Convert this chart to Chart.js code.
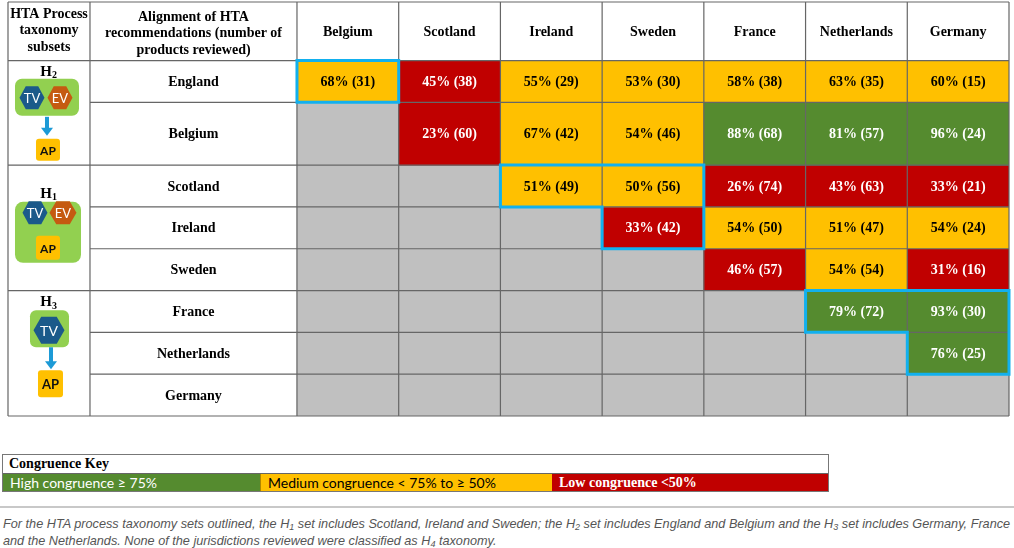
<!DOCTYPE html>
<html>
<head>
<meta charset="utf-8">
<script src="https://cdn.jsdelivr.net/npm/chart.js@4.4.0/dist/chart.umd.min.js"></script>
<style>
  body { margin: 0; background: #fff; width: 1014px; height: 548px; overflow: hidden; position: relative; }
  #wrap { position: absolute; left: 0; top: 0; width: 1014px; height: 430px; }
  #key { position: absolute; left: 2px; top: 454px; width: 827px; height: 38px; border: 1.5px solid #777; box-sizing: border-box; }
  #key .kt { height: 18px; border-bottom: 1px solid #666; font: bold 14px "Liberation Serif", serif; line-height: 18px; padding-left: 6px; color: #000; }
  #key .kr { display: flex; height: 17px; }
  #key .kr span { display: block; height: 17px; line-height: 17px; box-sizing: border-box; padding-left: 7px; }
  #key .hi { width: 257px; background: #558b2f; color: #fff; font: 14px Lato, sans-serif; }
  #key .md { width: 292px; background: #ffc000; color: #000; font: 14px Lato, sans-serif; border-left: 1px solid #b08500; }
  #key .lo { flex: 1; background: #c00000; color: #fff; font: bold 14px "Liberation Serif", serif; }
  #rule { position: absolute; left: 0; top: 506px; width: 1014px; height: 2px; background: #c8c8c8; }
  #cap { position: absolute; left: 3px; top: 516px; width: 1011px; margin: 0; font: italic 12.7px "Liberation Sans", Arial, sans-serif; line-height: 17px; color: #555; }
  #cap sub { font-size: 9px; vertical-align: -2px; line-height: 0; }
</style>
</head>
<body>
<div id="wrap"><canvas id="alignmentChart"></canvas></div>

<div id="key">
  <div class="kt">Congruence Key</div>
  <div class="kr">
    <span class="hi">High congruence ≥ 75%</span>
    <span class="md">Medium congruence &lt; 75% to ≥ 50%</span>
    <span class="lo">Low congruence &lt;50%</span>
  </div>
</div>
<div id="rule"></div>
<p id="cap">For the HTA process taxonomy sets outlined, the H<sub>1</sub> set includes Scotland, Ireland and Sweden; the H<sub>2</sub> set includes England and Belgium and the H<sub>3</sub> set includes Germany, France and the Netherlands. None of the jurisdictions reviewed were classified as H<sub>4</sub> taxonomy.</p>

<script>
// Columns and rows of the comparison table
const columns = ["Belgium", "Scotland", "Ireland", "Sweden", "France", "Netherlands", "Germany"];
const rows = ["England", "Belgium", "Scotland", "Ireland", "Sweden", "France", "Netherlands", "Germany"];

// Alignment (%) and number of products reviewed, one pair per row (null = no comparison)
const englandPct = [68, 45, 55, 53, 58, 63, 60];
const englandN = [31, 38, 29, 30, 38, 35, 15];
const belgiumPct = [null, 23, 67, 54, 88, 81, 96];
const belgiumN = [null, 60, 42, 46, 68, 57, 24];
const scotlandPct = [null, null, 51, 50, 26, 43, 33];
const scotlandN = [null, null, 49, 56, 74, 63, 21];
const irelandPct = [null, null, null, 33, 54, 51, 54];
const irelandN = [null, null, null, 42, 50, 47, 24];
const swedenPct = [null, null, null, null, 46, 54, 31];
const swedenN = [null, null, null, null, 57, 54, 16];
const francePct = [null, null, null, null, null, 79, 93];
const franceN = [null, null, null, null, null, 72, 30];
const netherlandsPct = [null, null, null, null, null, null, 76];
const netherlandsN = [null, null, null, null, null, null, 25];
const germanyPct = [null, null, null, null, null, null, null];
const germanyN = [null, null, null, null, null, null, null];

// Taxonomy subsets (H index) and their member jurisdictions
const taxonomyIndex = ["2", "1", "3"];
const taxonomyMembers = [
  ["England", "Belgium"],
  ["Scotland", "Ireland", "Sweden"],
  ["France", "Netherlands", "Germany"],
];

// Congruence thresholds (%)
const lowLimit = 50;
const highLimit = 75;

const pctRows = [englandPct, belgiumPct, scotlandPct, irelandPct, swedenPct, francePct, netherlandsPct, germanyPct];
const nRows = [englandN, belgiumN, scotlandN, irelandN, swedenN, franceN, netherlandsN, germanyN];

// Layout in axis units (one unit = one country column / one normal row)
const headerSpan = 1.4;
const rowSpans = [1, 1.5, 1, 1, 1, 1, 1, 1];
const subsetColSpan = 0.806;
const nameColSpan = 2.035;
const iconKinds = ["split", "joint", "tv"];

const COLORS = { high: "#558b2f", mid: "#ffc000", low: "#c00000", none: "#c0c0c0", grid: "#666666", outline: "#12b0ee" };

const rowTops = [];
let acc = headerSpan;
rowSpans.forEach((s) => { rowTops.push(acc); acc += s; });
const yMax = acc;

function cellColor(v) {
  if (v === null) return COLORS.none;
  if (v >= highLimit) return COLORS.high;
  if (v >= lowLimit) return COLORS.mid;
  return COLORS.low;
}

// One floating-bar dataset per row, bars overlap (grouped: false)
const datasets = rows.map((row, i) => ({
  label: row,
  data: columns.map((c, j) => ({ x: j + 0.5, y: [rowTops[i], rowTops[i] + rowSpans[i]] })),
  backgroundColor: pctRows[i].map(cellColor),
  borderWidth: 0,
  grouped: false,
  barPercentage: 1,
  categoryPercentage: 1,
}));

function hexagon(ctx, cx, cy, w, h, fill, text, size) {
  ctx.beginPath();
  ctx.moveTo(cx - w / 2, cy);
  ctx.lineTo(cx - w / 4, cy - h / 2);
  ctx.lineTo(cx + w / 4, cy - h / 2);
  ctx.lineTo(cx + w / 2, cy);
  ctx.lineTo(cx + w / 4, cy + h / 2);
  ctx.lineTo(cx - w / 4, cy + h / 2);
  ctx.closePath();
  ctx.fillStyle = fill;
  ctx.fill();
  ctx.fillStyle = "#fff";
  ctx.font = size + "px Lato, sans-serif";
  ctx.fillText(text, cx, cy + 1);
}

function roundBox(ctx, x0, y0, x1, y1, r, fill) {
  ctx.beginPath();
  ctx.roundRect(x0, y0, x1 - x0, y1 - y0, r);
  ctx.fillStyle = fill;
  ctx.fill();
}

function apBox(ctx, x0, y0, x1, y1, size) {
  roundBox(ctx, x0, y0, x1, y1, 3, "#ffc000");
  ctx.fillStyle = "#111";
  ctx.font = "bold " + size + "px Lato, sans-serif";
  ctx.fillText("AP", (x0 + x1) / 2, (y0 + y1) / 2 + 1);
}

function arrow(ctx, x, y0, y1) {
  ctx.fillStyle = "#1c9ad6";
  ctx.fillRect(x - 2, y0, 4, y1 - y0 - 7);
  ctx.beginPath();
  ctx.moveTo(x - 6, y1 - 8);
  ctx.lineTo(x + 6, y1 - 8);
  ctx.lineTo(x, y1);
  ctx.closePath();
  ctx.fill();
}

function hLabel(ctx, cx, cy, idx) {
  ctx.fillStyle = "#000";
  ctx.font = 'bold 15px "Liberation Serif", serif';
  ctx.textAlign = "right";
  ctx.fillText("H", cx + 3, cy);
  ctx.font = 'bold 10px "Liberation Serif", serif';
  ctx.textAlign = "left";
  ctx.fillText(idx, cx + 3, cy + 4);
  ctx.textAlign = "center";
}

function drawIcon(ctx, kind, cx, cy, idx) {
  const green = "#92d050", blue = "#1b5a8a", orange = "#c55a11";
  if (kind === "split") {
    hLabel(ctx, cx, cy - 41, idx);
    roundBox(ctx, cx - 34, cy - 34, cx + 30, cy + 3, 7, green);
    hexagon(ctx, cx - 17, cy - 15, 25, 23, blue, "TV", 13);
    hexagon(ctx, cx + 11, cy - 15, 25, 23, orange, "EV", 13);
    arrow(ctx, cx - 2, cy + 4, cy + 23);
    apBox(ctx, cx - 13, cy + 26, cx + 11, cy + 48, 12);
  } else if (kind === "joint") {
    hLabel(ctx, cx, cy - 34, idx);
    roundBox(ctx, cx - 34, cy - 26, cx + 32, cy + 35, 8, green);
    hexagon(ctx, cx - 14, cy - 15, 25, 23, blue, "TV", 13);
    hexagon(ctx, cx + 14, cy - 15, 27, 23, orange, "EV", 13);
    apBox(ctx, cx - 13, cy + 8, cx + 11, cy + 32, 12);
  } else {
    hLabel(ctx, cx, cy - 51, idx);
    roundBox(ctx, cx - 19, cy - 43, cx + 20, cy - 6, 6, green);
    hexagon(ctx, cx, cy - 23, 31, 27, blue, "TV", 14);
    arrow(ctx, cx + 2, cy - 6, cy + 16);
    apBox(ctx, cx - 11, cy + 17, cx + 14, cy + 44, 13);
  }
}

// Plugin that draws the table frame, headers, values and taxonomy icons
const tablePlugin = {
  id: "tableFrame",
  afterDatasetsDraw(chart) {
    const { ctx, scales: { x, y } } = chart;
    const px = (v) => x.getPixelForValue(v);
    const py = (v) => y.getPixelForValue(v);
    const left = px(-subsetColSpan - nameColSpan);
    const nameLeft = px(-nameColSpan);
    const right = px(columns.length);
    const top = py(0);
    const headBottom = py(headerSpan);
    const bottom = py(yMax);

    ctx.save();

    // grid lines
    ctx.strokeStyle = COLORS.grid;
    ctx.lineWidth = 1.2;
    const groupBounds = new Set();
    taxonomyMembers.forEach((m) => groupBounds.add(rows.indexOf(m[0])));
    ctx.beginPath();
    for (let j = 0; j <= columns.length; j++) {
      ctx.moveTo(px(j), top); ctx.lineTo(px(j), bottom);
    }
    ctx.moveTo(left, top); ctx.lineTo(left, bottom);
    ctx.moveTo(nameLeft, top); ctx.lineTo(nameLeft, bottom);
    ctx.moveTo(left, top); ctx.lineTo(right, top);
    ctx.moveTo(left, bottom); ctx.lineTo(right, bottom);
    rowTops.forEach((t, i) => {
      const from = groupBounds.has(i) ? left : nameLeft;
      ctx.moveTo(from, py(t)); ctx.lineTo(right, py(t));
    });
    ctx.stroke();

    // blue outlines around within-subset comparisons
    ctx.strokeStyle = COLORS.outline;
    ctx.lineWidth = 3;
    ctx.lineCap = "square";
    taxonomyMembers.forEach((members) => {
      const inSet = (i, j) => i >= 0 && j >= 0 && i < rows.length && j < columns.length &&
        members.includes(rows[i]) && members.includes(columns[j]) && pctRows[i][j] !== null;
      ctx.beginPath();
      rows.forEach((r, i) => {
        columns.forEach((c, j) => {
          if (!inSet(i, j)) return;
          const x0 = px(j), x1 = px(j + 1), y0 = py(rowTops[i]), y1 = py(rowTops[i] + rowSpans[i]);
          if (!inSet(i - 1, j)) { ctx.moveTo(x0, y0); ctx.lineTo(x1, y0); }
          if (!inSet(i + 1, j)) { ctx.moveTo(x0, y1); ctx.lineTo(x1, y1); }
          if (!inSet(i, j - 1)) { ctx.moveTo(x0, y0); ctx.lineTo(x0, y1); }
          if (!inSet(i, j + 1)) { ctx.moveTo(x1, y0); ctx.lineTo(x1, y1); }
        });
      });
      ctx.stroke();
    });

    ctx.textAlign = "center";
    ctx.textBaseline = "middle";
    ctx.fillStyle = "#000";

    // header
    ctx.font = 'bold 14px "Liberation Serif", serif';
    const c1 = (left + nameLeft) / 2;
    ["HTA Process", "taxonomy", "subsets"].forEach((t, k) => ctx.fillText(t, c1, top + 12 + k * 16.5));
    const c2 = (nameLeft + px(0)) / 2;
    ["Alignment of HTA", "recommendations (number of", "products reviewed)"].forEach((t, k) => ctx.fillText(t, c2, top + 15 + k * 16.5));
    const hMid = (top + headBottom) / 2;
    columns.forEach((c, j) => ctx.fillText(c, px(j + 0.5), hMid + 1));

    // row labels and cell values
    rows.forEach((r, i) => {
      const cy = py(rowTops[i] + rowSpans[i] / 2) + 1;
      ctx.fillStyle = "#000";
      ctx.font = 'bold 14px "Liberation Serif", serif';
      ctx.fillText(r, c2, cy);
      pctRows[i].forEach((v, j) => {
        if (v === null) return;
        ctx.fillStyle = v >= lowLimit && v < highLimit ? "#000" : "#fff";
        ctx.fillText(v + "% (" + nRows[i][j] + ")", px(j + 0.5), cy);
      });
    });

    // taxonomy icons in the first column
    taxonomyMembers.forEach((members, g) => {
      const i0 = rows.indexOf(members[0]);
      const i1 = rows.indexOf(members[members.length - 1]);
      const cy = (py(rowTops[i0]) + py(rowTops[i1] + rowSpans[i1])) / 2;
      drawIcon(ctx, iconKinds[g], c1, cy, taxonomyIndex[g]);
    });

    ctx.restore();
  },
};

new Chart(document.getElementById("alignmentChart"), {
  type: "bar",
  data: { datasets },
  options: {
    responsive: true,
    maintainAspectRatio: false,
    animation: false,
    events: [],
    layout: { padding: { left: 8, right: 5, top: 2, bottom: 14 } },
    scales: {
      x: {
        type: "linear", display: false, offset: false,
        min: -subsetColSpan - nameColSpan, max: columns.length,
        // one tick per column boundary keeps the bar ruler at a full column
        afterBuildTicks: (scale) => { scale.ticks = columns.map((c, j) => ({ value: j })); },
      },
      y: { type: "linear", display: false, reverse: true, min: 0, max: yMax },
    },
    plugins: { legend: { display: false }, tooltip: { enabled: false } },
  },
  plugins: [tablePlugin],
});
</script>
</body>
</html>
